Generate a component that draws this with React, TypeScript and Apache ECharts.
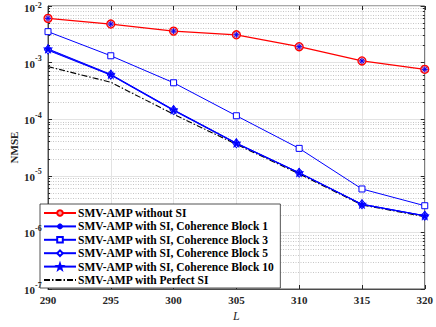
import React, { useEffect, useRef } from "react";
import * as echarts from "echarts";

const L = [290, 295, 300, 305, 310, 315, 320];
const noSI = [6.05e-3, 4.8e-3, 3.6e-3, 3.1e-3, 1.91e-3, 1.07e-3, 7.6e-4];
const block1 = [1.65e-3, 6.0e-4, 1.42e-4, 3.7e-5, 1.12e-5, 3.1e-6, 1.95e-6];
const block3 = [3.52e-3, 1.32e-3, 4.4e-4, 1.15e-4, 3.05e-5, 5.85e-6, 2.96e-6];
const block5 = [1.7e-3, 6.1e-4, 1.45e-4, 3.75e-5, 1.13e-5, 3.15e-6, 1.97e-6];
const block10 = [1.75e-3, 6.2e-4, 1.47e-4, 3.8e-5, 1.14e-5, 3.15e-6, 1.97e-6];
const perfect = [8.5e-4, 4.5e-4, 1.22e-4, 3.6e-5, 1.08e-5, 3.05e-6, 1.9e-6];
const yTickExps = [-2, -3, -4, -5, -6, -7];
const names = [
  "SMV-AMP without SI",
  "SMV-AMP with SI, Coherence Block 1",
  "SMV-AMP with SI, Coherence Block 3",
  "SMV-AMP with SI, Coherence Block 5",
  "SMV-AMP with SI, Coherence Block 10",
  "SMV-AMP with Perfect SI",
];

const FONT = "Liberation Serif";
const RED = "#ff0000";
const BLUE = "#0000ff";
const ASTER = "path://M0,-10L0,10M-10,0L10,0M-7,-7L7,7M-7,7L7,-7";
const STAR =
  "path://M0,-10L2.35,-3.24L9.51,-3.09L3.8,1.24L5.88,8.09L0,4L-5.88,8.09L-3.8,1.24L-9.51,-3.09L-2.35,-3.24Z";

const pairs = (ys: number[]) => L.map((x, i) => [x, ys[i]]);

export default function App() {
  const ref = useRef<HTMLDivElement>(null);
  useEffect(() => {
    const chart = echarts.init(ref.current!, undefined, { renderer: "svg" });
    const minorStyle = { color: "#b8b8b8", type: [1, 1.5], width: 0.8 };
    chart.setOption({
      animation: false,
      backgroundColor: "#ffffff",
      grid: {
        left: 40,
        right: 9,
        top: 6,
        bottom: 38,
        show: true,
        borderColor: "#262626",
        borderWidth: 0.8,
        backgroundColor: "transparent",
      },
      legend: {
        data: names.map((n, i) =>
          i === 5
            ? { name: n, itemStyle: { color: "rgba(0,0,0,0)", borderWidth: 0, opacity: 0 } }
            : { name: n }
        ),
        orient: "vertical",
        left: 40,
        top: 204,
        z: 6,
        itemWidth: 32,
        itemHeight: 7,
        itemGap: 1.4,
        padding: [3, 6, 2, 3],
        backgroundColor: "#ffffff",
        borderColor: "#262626",
        borderWidth: 0.8,
        textStyle: {
          fontFamily: FONT,
          fontWeight: "bold",
          fontSize: 11.5,
          lineHeight: 12,
          color: "#000",
          padding: [0, 0, 0, -3],
        },
      },
      xAxis: [
        {
          type: "value",
          min: 290,
          max: 320,
          interval: 5,
          name: "L",
          nameLocation: "middle",
          nameGap: 21,
          nameTextStyle: {
            fontFamily: FONT,
            fontStyle: "italic",
            fontSize: 12,
            color: "#262626",
          },
          axisLine: { lineStyle: { color: "#262626", width: 0.8 } },
          axisTick: { inside: true, length: 4, lineStyle: { color: "#262626" } },
          axisLabel: {
            fontFamily: FONT,
            fontWeight: "bold",
            fontSize: 11,
            color: "#262626",
            margin: 5,
          },
          splitLine: { show: true, lineStyle: { color: "#e3e3e3", width: 1 } },
        },
        {
          type: "value",
          position: "top",
          min: 290,
          max: 320,
          interval: 5,
          axisLine: { show: false },
          axisTick: { inside: true, length: 4, lineStyle: { color: "#262626" } },
          axisLabel: { show: false },
          splitLine: { show: false },
        },
      ],
      yAxis: [
        {
          type: "log",
          logBase: 10,
          min: 1e-7,
          max: 1e-2,
          name: "NMSE",
          nameLocation: "middle",
          nameGap: 29,
          nameTextStyle: {
            fontFamily: FONT,
            fontWeight: "bold",
            fontSize: 11,
            color: "#262626",
          },
          axisLine: { show: true, lineStyle: { color: "#262626", width: 0.8 } },
          axisTick: { inside: true, length: 4, lineStyle: { color: "#262626" } },
          minorTick: { show: true, splitNumber: 9, length: 2, lineStyle: { color: "#262626" } },
          axisLabel: { show: false },
          splitLine: { show: true, lineStyle: { color: "#e3e3e3", width: 1 } },
          minorSplitLine: { show: true, lineStyle: minorStyle },
        },
        {
          type: "log",
          logBase: 10,
          min: 1e-7,
          max: 1e-2,
          position: "right",
          axisLine: { show: false },
          axisTick: { inside: true, length: 4, lineStyle: { color: "#262626" } },
          minorTick: { show: true, splitNumber: 9, length: 2, lineStyle: { color: "#262626" } },
          axisLabel: { show: false },
          splitLine: { show: false },
        },
      ],
      series: [
        {
          type: "line",
          name: names[5],
          data: pairs(perfect),
          symbol: "none",
          lineStyle: { color: "#000", width: 1.1, type: [6, 2, 1.5, 2] },
          itemStyle: { color: "#000" },
          z: 2,
        },
        {
          type: "line",
          name: names[2],
          data: pairs(block3),
          symbol: "rect",
          symbolSize: 6,
          lineStyle: { color: BLUE, width: 1 },
          itemStyle: { color: "#ffffff", borderColor: BLUE, borderWidth: 1 },
          z: 3,
        },
        {
          type: "line",
          name: names[1],
          data: pairs(block1),
          symbol: ASTER,
          symbolSize: 7,
          lineStyle: { color: BLUE, width: 1 },
          itemStyle: { color: BLUE, borderColor: BLUE, borderWidth: 1 },
          z: 3,
        },
        {
          type: "line",
          name: names[3],
          data: pairs(block5),
          symbol: "diamond",
          symbolSize: [7, 9],
          lineStyle: { color: BLUE, width: 1 },
          itemStyle: { color: "#ffffff", borderColor: BLUE, borderWidth: 1 },
          z: 3,
        },
        {
          type: "line",
          name: names[4],
          data: pairs(block10),
          symbol: STAR,
          symbolSize: 9,
          lineStyle: { color: BLUE, width: 1 },
          itemStyle: { color: BLUE, borderColor: BLUE, borderWidth: 0.5 },
          z: 3,
        },
        {
          type: "line",
          name: names[0],
          data: pairs(noSI),
          symbol: "circle",
          symbolSize: 8,
          lineStyle: { color: RED, width: 1.3 },
          itemStyle: { color: "#f4a0a0", borderColor: RED, borderWidth: 1.3 },
          z: 4,
        },
        {
          type: "line",
          name: "overlay",
          data: pairs(noSI),
          symbol: ASTER,
          symbolSize: 6,
          lineStyle: { width: 0 },
          itemStyle: { color: BLUE, borderColor: BLUE, borderWidth: 1 },
          z: 5,
        },
      ],
    });

    const x0 = chart.convertToPixel({ xAxisIndex: 0 }, L[0]) as number;
    const labels: any[] = [];
    yTickExps.forEach((e) => {
      const py = chart.convertToPixel({ yAxisIndex: 0 }, Math.pow(10, e)) as number;
      labels.push({
        type: "text",
        silent: true,
        z: 20,
        style: {
          text: "10",
          x: x0 - 13,
          y: Math.max(py + 1, 8),
          align: "right",
          verticalAlign: "middle",
          font: "bold 11px 'Liberation Serif'",
          fill: "#262626",
        },
      });
      labels.push({
        type: "text",
        silent: true,
        z: 20,
        style: {
          text: String(e),
          x: x0 - 13,
          y: Math.max(py - 4, 5),
          align: "left",
          verticalAlign: "middle",
          font: "bold 8px 'Liberation Serif'",
          fill: "#262626",
        },
      });
    });
    chart.setOption({ graphic: labels });
    return () => chart.dispose();
  }, []);
  return <div ref={ref} style={{ width: 436, height: 327, position: "absolute", left: 0, top: 0 }} />;
}
